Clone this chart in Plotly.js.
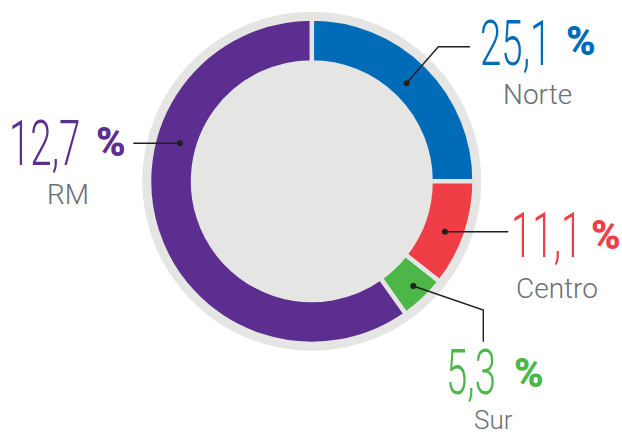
<!DOCTYPE html>
<html>
<head>
<meta charset="utf-8">
<script src="https://cdn.plot.ly/plotly-3.0.1.min.js"></script>
<style>
html,body{margin:0;padding:0;background:#fff;}
#chart{width:622px;height:435px;}
</style>
</head>
<body>
<div id="chart"></div>
<script>
// ---- data ----
const regions = ['Norte', 'Centro', 'Sur', 'RM'];
const sliceShares = [25.0, 10.6, 4.6, 59.8];        // slice sizes read from the ring
const labelValues = [25.1, 11.1, 5.3, 12.7];        // printed percentages
const colors = ['#006cb7', '#ef3e46', '#4cb748', '#5b2e8f'];

// ---- layout helpers (pixel -> paper) ----
const W = 622, H = 435;
const px = x => x / W;
const py = y => 1 - y / H;
function domainFor(cx, cy, r) {
  return {x: [px(cx - r), px(cx + r)], y: [py(cy + r), py(cy - r)]};
}
const CX = 311.8, CY = 181.2;
const GAP = 4.5;
const R = 160.5 + GAP / 2;
const BG = '#e5e5e4';

const traces = [
  {
    type: 'pie', values: [1], labels: ['fondo'], sort: false,
    marker: {colors: [BG], line: {width: 0}},
    textinfo: 'none', hoverinfo: 'skip', showlegend: false,
    domain: domainFor(CX, CY, 169.5)
  },
  {
    type: 'pie', values: sliceShares, labels: regions, sort: false,
    direction: 'clockwise', rotation: 0,
    hole: (121 - GAP / 2) / R,
    marker: {colors: colors, line: {color: BG, width: GAP}},
    textinfo: 'none', hoverinfo: 'label', showlegend: false,
    domain: domainFor(CX, CY, R)
  }
];

// label placement (pixels)
const place = {
  Norte:  {num: [480, 43.5],   pct: [565.5, 41.3], name: [537, 94],      nameSize: 28, dot: [406.5, 83.3], path: [[406.5,83.3],[438.3,46.7],[470,46.7]]},
  Centro: {num: [511, 235],    pct: [590.5, 235.6], name: [556.7, 288.5], nameSize: 28, dot: [445, 231.7],  path: [[445,231.7],[508.3,231.7]]},
  Sur:    {num: [445.5, 372],  pct: [514, 373],    name: [493, 419.5],   nameSize: 26, dot: [413.3, 286],  path: [[413.3,286],[483.3,310],[483.3,341.7]]},
  RM:     {num: [9, 143.5],    pct: [96, 142.3],   name: [68, 194.8],    nameSize: 28, dot: [180, 143.3],  path: [[133.3,143.3],[180,143.3]]}
};

const annotations = [];
const shapes = [];
const condensed = [];
const fmt = v => v.toFixed(1).replace('.', ',');

regions.forEach((reg, i) => {
  const p = place[reg];
  condensed.push(annotations.length);
  annotations.push({
    xref: 'paper', yref: 'paper', x: px(p.num[0]), y: py(p.num[1]),
    xanchor: 'left', yanchor: 'middle', showarrow: false,
    borderpad: 0, borderwidth: 0,
    text: fmt(labelValues[i]),
    font: {family: 'Roboto', size: 63, weight: 300, color: colors[i]}
  });
  annotations.push({
    xref: 'paper', yref: 'paper', x: px(p.pct[0]), y: py(p.pct[1]),
    xanchor: 'left', yanchor: 'middle', showarrow: false,
    borderpad: 0, borderwidth: 0,
    text: '%',
    font: {family: 'Roboto', size: 40, weight: 900, color: colors[i]}
  });
  annotations.push({
    xref: 'paper', yref: 'paper', x: px(p.name[0]), y: py(p.name[1]),
    xanchor: 'center', yanchor: 'middle', showarrow: false,
    borderpad: 0, borderwidth: 0,
    text: reg,
    font: {family: 'Roboto', size: p.nameSize, weight: 300, color: '#6d6e71'}
  });
  const d = p.path.map((pt, k) => (k ? 'L' : 'M') + px(pt[0]).toFixed(5) + ',' + py(pt[1]).toFixed(5)).join(' ');
  shapes.push({type: 'path', xref: 'paper', yref: 'paper', path: d,
    line: {color: '#231f20', width: 1.4}, layer: 'above'});
  const r = 3;
  shapes.push({type: 'circle', xref: 'paper', yref: 'paper',
    x0: px(p.dot[0] - r), x1: px(p.dot[0] + r), y0: py(p.dot[1] + r), y1: py(p.dot[1] - r),
    fillcolor: '#231f20', line: {width: 0}, layer: 'above'});
});

const layout = {
  width: W, height: H,
  margin: {l: 0, r: 0, t: 0, b: 0},
  paper_bgcolor: '#ffffff', plot_bgcolor: '#ffffff',
  showlegend: false,
  annotations: annotations,
  shapes: shapes
};

Plotly.newPlot('chart', traces, layout, {displayModeBar: false, staticPlot: true}).then(() => {
  document.querySelectorAll('.annotation').forEach(g => {
    const idx = +g.getAttribute('data-index');
    if (condensed.indexOf(idx) >= 0) {
      const t = g.querySelector('text');
      if (t) {
        t.style.transformBox = 'fill-box';
        t.style.transformOrigin = '0% 50%';
        t.style.transform = 'scaleX(0.61)';
      }
    }
  });
});
</script>
</body>
</html>
